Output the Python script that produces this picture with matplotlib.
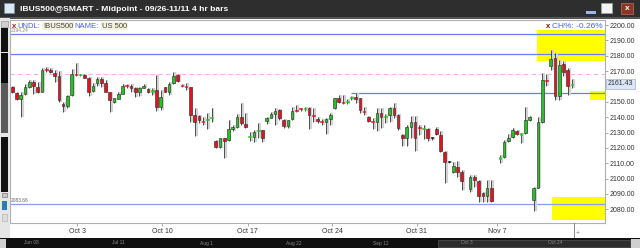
import matplotlib
matplotlib.use("Agg")
import matplotlib.pyplot as plt
from matplotlib.patches import Rectangle

plt.rcParams['font.family'] = ['Liberation Sans', 'DejaVu Sans']

# 4 hr bars, IBUS500 midpoint (None = empty time slot)
opens = [2159.6, 2155.9, 2151.6, 2154.9, 2159.6, 2163.1, 2159.6, 2156.6, 2171.2, 2170.9,
         2168.8, 2166.8, 2148.8, 2147.5, 2154.4, 2167.9, 2167.3, 2167.7, 2165.7, 2157.0,
         2162.0, 2164.6, 2162.2, 2156.2, 2150.1, 2152.0, 2155.3, 2160.7, 2160.5, 2158.8,
         2156.2, 2159.2, 2158.3, 2156.6, 2157.5, 2146.8, 2159.4, 2156.6, 2162.0, 2167.4,
         2160.7, 2160.1, 2159.4, 2141.4, 2140.5, 2137.4, 2138.4, 2139.2, 2124.5, 2120.6,
         2126.2, 2124.9, 2132.3, 2133.8, 2140.3, 2135.5, 2127.0, 2127.3, 2131.0, 2131.4,
         2137.5, 2139.7, 2142.3, 2144.4, 2138.2, 2134.0, 2138.6, 2144.0, 2145.4, 2145.3,
         2145.8, 2140.9, 2138.8, 2137.2, 2136.6, 2139.0, 2145.8, 2152.3, 2149.6, 2150.0,
         2152.6, 2153.3, 2152.3, 2143.7, 2139.9, 2137.2, 2137.1, 2142.7, 2140.2, 2141.4,
         2145.8, 2141.4, 2128.4, 2126.2, 2133.6, 2137.1, 2133.1, 2132.1, 2132.3, 2126.2,
         2132.5, 2128.4, 2117.3, 2110.8, 2104.1, 2107.7, 2104.1, None,
         2093.0, 2101.2, 2098.4, 2090.4, 2088.9, 2094.1, None,
         2113.1, 2113.8, 2124.5, 2126.8, 2131.2, 2128.7, 2129.5, 2138.1,
         2086.1, 2094.1, 2137.1, 2163.9, 2173.5, 2178.3, 2153.8, 2174.5, 2170.9, 2160.9]
highs = [2160.5, 2156.2, 2156.2, 2161.4, 2164.4, 2164.4, 2163.1, 2172.2, 2172.9, 2171.8,
         2170.5, 2170.0, 2150.1, 2154.4, 2171.4, 2175.3, 2168.3, 2168.3, 2165.9, 2162.0,
         2166.2, 2166.4, 2164.4, 2156.6, 2152.7, 2156.2, 2161.4, 2161.4, 2161.4, 2159.6,
         2159.6, 2161.4, 2158.8, 2159.2, 2167.4, 2157.5, 2159.6, 2163.1, 2169.6, 2167.9,
         2161.4, 2162.2, 2159.8, 2145.8, 2141.4, 2140.1, 2142.5, 2145.8, 2124.9, 2126.7,
         2126.7, 2137.9, 2134.9, 2141.8, 2149.4, 2142.5, 2130.6, 2131.6, 2136.0, 2131.9,
         2140.3, 2143.1, 2145.8, 2145.3, 2138.6, 2138.2, 2146.8, 2147.9, 2146.2, 2146.8,
         2146.8, 2146.2, 2140.1, 2138.6, 2139.2, 2142.5, 2152.7, 2154.4, 2154.4, 2151.6,
         2154.0, 2155.5, 2152.7, 2146.4, 2140.8, 2139.2, 2146.2, 2145.8, 2141.8, 2146.8,
         2149.4, 2141.8, 2128.8, 2134.9, 2140.8, 2140.8, 2134.9, 2134.9, 2132.7, 2127.0,
         2133.4, 2131.2, 2117.7, 2111.5, 2111.0, 2111.7, 2105.6, None,
         2102.3, 2102.3, 2099.1, 2091.5, 2099.1, 2099.1, None,
         2115.3, 2125.1, 2128.8, 2132.7, 2131.6, 2129.5, 2146.8, 2140.8,
         2094.5, 2140.0, 2168.6, 2168.4, 2183.7, 2181.6, 2177.0, 2176.5, 2171.8, 2164.8]
lows = [2155.5, 2151.2, 2140.3, 2154.4, 2158.8, 2154.9, 2155.8, 2156.2, 2169.6, 2168.5,
        2162.7, 2150.1, 2143.6, 2145.8, 2154.0, 2167.0, 2166.6, 2165.3, 2154.0, 2156.2,
        2160.5, 2159.4, 2156.2, 2143.2, 2149.4, 2151.6, 2155.3, 2158.8, 2156.2, 2153.3,
        2154.0, 2158.8, 2155.8, 2154.4, 2144.0, 2144.4, 2156.2, 2154.4, 2161.4, 2163.1,
        2159.6, 2157.9, 2137.1, 2127.7, 2136.0, 2134.9, 2132.3, 2137.1, 2119.7, 2119.7,
        2113.6, 2124.5, 2131.0, 2132.7, 2134.9, 2133.1, 2124.5, 2123.6, 2126.7, 2123.6,
        2135.8, 2139.2, 2134.9, 2138.2, 2132.7, 2133.1, 2137.9, 2143.1, 2144.0, 2144.0,
        2132.3, 2137.1, 2136.0, 2134.9, 2128.8, 2134.9, 2145.1, 2149.0, 2148.4, 2148.8,
        2151.4, 2149.0, 2142.5, 2141.4, 2137.1, 2132.3, 2131.0, 2132.7, 2136.0, 2137.1,
        2139.2, 2131.6, 2121.4, 2121.4, 2126.2, 2118.2, 2128.4, 2125.8, 2124.5, 2125.0,
        2128.4, 2117.3, 2096.9, 2110.0, 2103.4, 2101.3, 2092.6, None,
        2091.5, 2094.8, 2084.5, 2085.0, 2084.5, 2085.0, None,
        2110.4, 2113.2, 2123.8, 2126.2, 2128.4, 2123.0, 2129.0, 2137.5,
        2079.1, 2094.1, 2136.0, 2160.0, 2170.7, 2151.2, 2151.2, 2167.0, 2154.4, 2159.0]
closes = [2156.2, 2151.6, 2154.4, 2159.4, 2163.1, 2160.3, 2156.2, 2170.9, 2170.9, 2169.2,
          2167.0, 2151.4, 2147.5, 2154.0, 2167.9, 2167.6, 2167.6, 2165.7, 2156.6, 2160.3,
          2164.6, 2162.5, 2156.6, 2151.4, 2152.3, 2155.1, 2160.5, 2160.3, 2159.2, 2156.2,
          2158.8, 2160.5, 2156.2, 2157.5, 2146.8, 2153.1, 2156.6, 2161.6, 2167.0, 2163.8,
          2160.3, 2159.8, 2141.4, 2137.1, 2137.9, 2137.1, 2138.6, 2139.5, 2120.6, 2126.2,
          2124.5, 2132.3, 2133.8, 2140.3, 2136.0, 2133.8, 2127.2, 2130.6, 2131.3, 2126.7,
          2139.7, 2141.8, 2144.0, 2139.2, 2134.2, 2137.9, 2144.0, 2143.8, 2145.1, 2145.5,
          2141.4, 2140.7, 2137.5, 2137.0, 2138.6, 2141.4, 2152.3, 2150.1, 2149.4, 2150.3,
          2152.8, 2151.8, 2144.6, 2143.6, 2137.5, 2137.0, 2142.5, 2139.9, 2140.4, 2145.8,
          2141.4, 2133.1, 2126.2, 2133.6, 2137.1, 2126.7, 2132.9, 2132.3, 2126.7, 2126.2,
          2129.0, 2118.0, 2110.8, 2110.8, 2108.2, 2104.3, 2098.2, None,
          2101.2, 2099.1, 2088.9, 2088.9, 2094.1, 2085.6, None,
          2113.4, 2124.0, 2126.6, 2131.6, 2129.0, 2128.9, 2138.1, 2140.3,
          2093.7, 2137.1, 2164.2, 2163.7, 2178.0, 2153.8, 2174.0, 2169.5, 2160.0, 2161.43]

date_labels = ['Oct 3', 'Oct 10', 'Oct 17', 'Oct 24', 'Oct 31', 'Nov 7']
date_slots = [15.3, 35.4, 55.5, 75.5, 95.4, 114.3]
price_ticks = [2080, 2090, 2100, 2110, 2120, 2130, 2140, 2150, 2160, 2170, 2180, 2190, 2200]
scroll_labels = ['Jun 08', 'Jul 11', 'Aug 1', 'Aug 22', 'Sep 12', 'Oct 3', 'Oct 24']

level_top = 2194.24
level_mid = 2181.0
level_trend = 2155.6
level_low = 2083.66
level_pink = 2168.1
last_price = 2161.43

W, H = 640, 248
fig = plt.figure(figsize=(W / 100, H / 100), dpi=100)
fig.patch.set_facecolor('white')


def px_rect(x, y, w, h, **kw):
    fig.add_artist(Rectangle((x / W, 1 - (y + h) / H), w / W, h / H,
                             transform=fig.transFigure, **kw))


def px_text(x, y, s, **kw):
    fig.text(x / W, 1 - y / H, s, **kw)


ax = fig.add_axes([10 / W, 25 / H, 595 / W, 203 / H])
ax.set_xlim(-0.54, 139.8)
ax.set_ylim(2071.1, 2203.3)

# yellow zones
ax.add_patch(Rectangle((123.7, 2176.6), 20, 20.1, facecolor='#ffff00', edgecolor='none', zorder=1))
ax.add_patch(Rectangle((136.2, 2151.2), 10, 5.8, facecolor='#ffff00', edgecolor='none', zorder=1))
ax.add_patch(Rectangle((127.2, 2073.0), 20, 15.2, facecolor='#ffff00', edgecolor='none', zorder=1))

# levels
ax.axhline(level_top, color='#6c7cf5', lw=0.9, zorder=2)
ax.axhline(level_mid, color='#6c7cf5', lw=0.9, zorder=2)
ax.hlines(level_trend, 80, 139.8, color='#6c7cf5', lw=0.9, zorder=2)
ax.axhline(level_low, color='#8a9af8', lw=0.9, zorder=2)
ax.axhline(level_pink, color='#ffaaf5', lw=0.8, ls=(0, (4, 3)), zorder=2)

# candles
for i, (o, h, l, c) in enumerate(zip(opens, highs, lows, closes)):
    if o is None:
        continue
    if c > o:
        col = '#22c422'
    elif c < o:
        col = '#e8101e'
    else:
        col = '#111111'
    ax.vlines(i + 0.45, l, h, color='#d2d2d2', lw=1.6, zorder=2.5)
    ax.vlines(i, l, h, color='#333333', lw=0.6, zorder=3)
    body = max(abs(c - o), 0.7)
    ax.bar(i, body, bottom=min(o, c), width=0.62, color=col,
           edgecolor='#262626' if abs(c - o) > 1 else col, linewidth=0.4, zorder=4)

ax.set_xticks(date_slots)
ax.set_xticklabels(date_labels)
ax.yaxis.tick_right()
ax.set_yticks(price_ticks)
# the last-price box sits on top of the 2160 label
ax.set_yticklabels(['' if p == 2160 else f'{p:.2f}' for p in price_ticks])
ax.tick_params(axis='both', labelsize=5, colors='#999999', labelcolor='#333333',
               length=2, width=0.6, pad=1.5)
for side in ['left', 'right', 'bottom', 'top']:
    ax.spines[side].set_color('#b0b0b0')
    ax.spines[side].set_linewidth(0.8)

# text inside the chart
px_text(12, 26, 'x', color='#c01818', fontsize=5.5, fontweight='bold', va='center')
px_text(17, 26, 'UNDL:', color='#4a5cff', fontsize=5.5, va='center')
px_text(43, 26, 'IBUS500', color='#444444', fontsize=5.5, va='center',
        bbox=dict(facecolor='#f3f0dc', edgecolor='none', pad=0.6))
px_text(74, 26, 'NAME:', color='#4a5cff', fontsize=5.5, va='center')
px_text(102, 26, 'US 500', color='#444444', fontsize=5.5, va='center',
        bbox=dict(facecolor='#f3f0dc', edgecolor='none', pad=0.6))
px_text(11, 31, f'{level_top:.2f}', color='#888888', fontsize=3.5, va='center')
px_text(11, 201, f'{level_low:.2f}', color='#666666', fontsize=3.5, va='center')
px_text(546, 26, 'x', color='#7a1010', fontsize=5.5, fontweight='bold', va='center')
px_text(552, 26, 'CH%: -0.26%', color='#4a5cff', fontsize=6, va='center')
px_text(608, 84, f'{last_price:.2f}', color='#333333', fontsize=5, va='center',
        bbox=dict(facecolor='#dbe6f7', edgecolor='#9fb3d6', pad=1.2, lw=0.5))

# title bar
px_rect(0, 0, W, 18, facecolor='#2e2e2e', edgecolor='none')
px_rect(0, 17, W, 1.5, facecolor='#555555', edgecolor='none')
px_rect(4, 3, 10, 10, facecolor='#dfe8f0', edgecolor='#7090b0', lw=0.5)
px_text(20, 9.5, 'IBUS500@SMART - Midpoint - 09/26-11/11 4 hr bars', color='white',
        fontsize=6.1, fontweight='bold', va='center')
px_rect(586, 11, 10, 2.5, facecolor='#9bb8e8', edgecolor='none')
px_rect(601, 3, 11, 10, facecolor='#f4f4f4', edgecolor='#9aa', lw=0.5)
px_rect(621, 3, 12, 11, facecolor='#8c3526', edgecolor='#c07060', lw=0.5)
px_text(627, 8.5, 'x', color='white', fontsize=6, fontweight='bold', ha='center', va='center')

# left scroll strip
px_rect(0, 18, 10, 220, facecolor='#e6e6e6', edgecolor='none')
px_rect(1, 21, 7, 6, facecolor='#d0d0d0', edgecolor='#888888', lw=0.4)
px_rect(1, 28, 7, 24, facecolor='#111111', edgecolor='none')
px_rect(1, 53, 7, 30, facecolor='#0c0c0c', edgecolor='none')
px_rect(1, 83, 7, 50, facecolor='#5a5a5a', edgecolor='none')
px_rect(1, 137, 7, 55, facecolor='#111111', edgecolor='none')
px_rect(2, 193, 5, 4, facecolor='#c8c8c8', edgecolor='#666666', lw=0.4)
px_rect(2, 201, 5, 9, facecolor='#2a7ac0', edgecolor='none')
px_rect(2, 214, 5, 7, facecolor='#dddddd', edgecolor='#aaaaaa', lw=0.4)

# bottom scroll bar
px_rect(574, 223, 0.8, 15, facecolor='#888888', edgecolor='none')
px_text(578, 233, '+', color='#888888', fontsize=5, ha='center', va='center')
px_rect(0, 238, W, 10, facecolor='#101010', edgecolor='none')
px_rect(438, 239.5, 192, 7, facecolor='#2c2c2c', edgecolor='#555555', lw=0.5)
px_rect(631, 239, 9, 9, facecolor='#cfcfcf', edgecolor='none')
px_rect(0, 239, 6, 9, facecolor='#cfcfcf', edgecolor='none')
for lab, x in zip(scroll_labels, [31, 118, 206, 294, 381, 467, 555]):
    px_text(x, 243, lab, color='#8a8a8a', fontsize=3.5, ha='center', va='center')

fig.savefig('out.png', dpi=100)
